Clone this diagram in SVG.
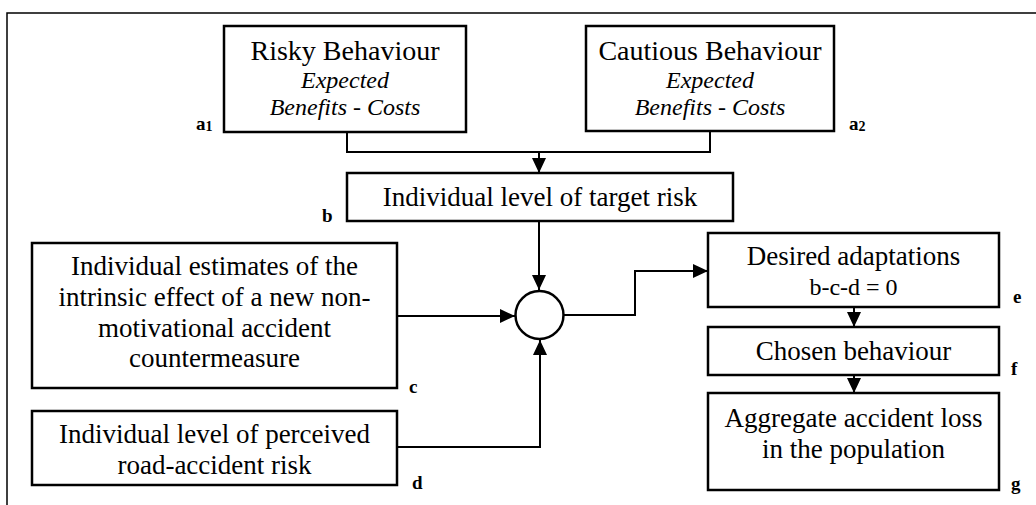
<svg xmlns="http://www.w3.org/2000/svg" width="1036" height="505" viewBox="0 0 1036 505">
<style>
.box{fill:#fff;stroke:#000;stroke-width:2.5}
.t{font-family:"Liberation Serif","Times New Roman",serif;font-size:27px;fill:#000;text-anchor:middle}
.h{font-size:28px}
.i{font-style:italic;font-size:24px}
.s{font-size:24px}
.lb{font-family:"Liberation Serif","Times New Roman",serif;font-size:19px;font-weight:bold;fill:#000}
.ln{fill:none;stroke:#000;stroke-width:2}
</style>
<defs>
<marker id="ah" markerUnits="userSpaceOnUse" markerWidth="15" markerHeight="14" refX="15" refY="7" orient="auto">
<path d="M0,0 L15,7 L0,14 z" fill="#000"/>
</marker>
</defs>
<rect width="1036" height="505" fill="#fff"/>
<path d="M7,505 V13 H1036" fill="none" stroke="#000" stroke-width="1.5"/>
<g id="connectors">
<path class="ln" d="M347,132 V152 H710 V131"/>
<path class="ln" d="M539,152 V173" marker-end="url(#ah)"/>
<path class="ln" d="M539,221 V290" marker-end="url(#ah)"/>
<path class="ln" d="M397,316 H515" marker-end="url(#ah)"/>
<path class="ln" d="M397,447 H540 V340" marker-end="url(#ah)"/>
<path class="ln" d="M564,315 H635 V271 H708" marker-end="url(#ah)"/>
<path class="ln" d="M854,307 V327" marker-end="url(#ah)"/>
<path class="ln" d="M854,375 V393" marker-end="url(#ah)"/>
</g>
<g id="risky">
<rect class="box" x="224" y="26" width="242" height="106"/>
<text class="t h" x="345" y="60">Risky Behaviour</text>
<text class="t i" x="345" y="88">Expected</text>
<text class="t i" x="345" y="115">Benefits - Costs</text>
<text class="lb" x="196" y="130">a<tspan font-size="14" dy="1">1</tspan></text>
</g>
<g id="cautious">
<rect class="box" x="586" y="26" width="248" height="105"/>
<text class="t h" x="710" y="60">Cautious Behaviour</text>
<text class="t i" x="710" y="88">Expected</text>
<text class="t i" x="710" y="115">Benefits - Costs</text>
<text class="lb" x="849" y="130">a<tspan font-size="14" dy="1">2</tspan></text>
</g>
<g id="target">
<rect class="box" x="347" y="173" width="386" height="48"/>
<text class="t" x="540" y="206">Individual level of target risk</text>
<text class="lb" x="322" y="222">b</text>
</g>
<g id="circle">
<circle cx="539.5" cy="315" r="24" fill="#fff" stroke="#000" stroke-width="2.5"/>
</g>
<g id="estimates">
<rect class="box" x="32" y="243" width="365" height="145"/>
<text class="t" x="214.5" y="275">Individual estimates of the</text>
<text class="t" x="214.5" y="306">intrinsic effect of a new non-</text>
<text class="t" x="214.5" y="337">motivational accident</text>
<text class="t" x="214.5" y="367">countermeasure</text>
<text class="lb" x="409" y="393">c</text>
</g>
<g id="perceived">
<rect class="box" x="32" y="411" width="365" height="74"/>
<text class="t" x="214.5" y="443">Individual level of perceived</text>
<text class="t" x="214.5" y="474">road-accident risk</text>
<text class="lb" x="412" y="489">d</text>
</g>
<g id="desired">
<rect class="box" x="708" y="233" width="291" height="74"/>
<text class="t" x="853.5" y="265">Desired adaptations</text>
<text class="t s" x="853.5" y="295">b-c-d = 0</text>
<text class="lb" x="1013" y="303">e</text>
</g>
<g id="chosen">
<rect class="box" x="708" y="327" width="291" height="48"/>
<text class="t" x="853.5" y="360">Chosen behaviour</text>
<text class="lb" x="1011" y="375">f</text>
</g>
<g id="aggregate">
<rect class="box" x="708" y="393" width="291" height="97"/>
<text class="t" x="853.5" y="427">Aggregate accident loss</text>
<text class="t" x="853.5" y="458">in the population</text>
<text class="lb" x="1011" y="490">g</text>
</g>
</svg>
